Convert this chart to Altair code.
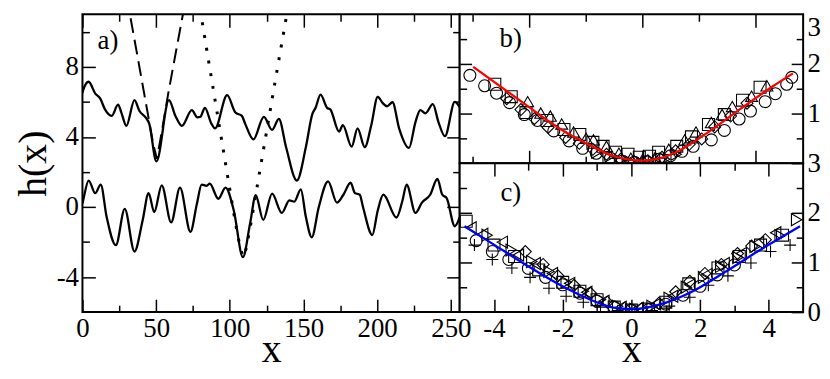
import altair as alt
import pandas as pd

FONT = "Liberation Serif"

# ---------------- panel a) : interfaces h(x) ----------------
upper_x = [0, 0.4, 4.2, 8.7, 12, 15.3, 19.8, 24.2, 26.4, 29.8, 35.3, 38.7, 43, 45.3, 50.2, 58.7, 63.1, 67.5,
           74.2, 78, 80, 83.1, 87.5, 90, 98.2, 103.8, 108.2, 110.4, 116, 123.1, 128.7, 133.3, 138.2, 145.5,
           151.6, 156, 158.2, 161.6, 166, 168.2, 174.2, 176.7, 182.7, 186.7, 191.6, 196, 200.4, 203.8, 206.7,
           210.4, 214.9, 221.6, 226, 229.3, 232.7, 237.8, 241.6, 246, 252.7, 256]
upper_y = [6.5, 6.65, 7.15, 6.47, 6.2, 5.57, 5.2, 5.84, 5.39, 4.63, 6.1, 5.48, 5.1, 4.76, 2.6, 6.1, 5.2, 4.63,
           5.53, 5.12, 5.15, 5.66, 4.76, 4.49, 6.38, 5.39, 5.2, 4.76, 3.86, 5.15, 4.4, 5.03, 3.41, 1.51,
           3.41, 5.3, 5.66, 6.41, 5.66, 5.57, 4.3, 4.67, 3.44, 4.49, 3.41, 4.67, 6.29, 5.93, 5.75,
           5.98, 4.49, 3.37, 4.85, 5.53, 5.35, 5.87, 4.85, 4.04, 6.0, 5.7]

lower_x = [0, 0.4, 4.2, 8.7, 12.4, 16.4, 22.7, 28.7, 35.3, 40.9, 44.9, 48.7, 53.8, 60.2, 66.2, 73.3, 77.6,
           80.9, 84.2, 86.4, 92.2, 97.1, 102.7, 108.9, 113.8, 117.6, 122.7, 128.7, 135.3, 140.4, 143.8,
           148.2, 151.6, 155.6, 160.4, 166.7, 172.7, 177.1, 182, 184.9, 188.2, 190.4, 196.7, 200.4, 204.2,
           213.1, 217.1, 220, 226, 230.4, 236, 240.9, 244.2, 247.1, 252.7, 256]
lower_y = [0.2, 0.34, 1.51, 0.79, 1.28, -0.56, -2.18, -0.11, -2.54, -0.74, 0.79, -0.29, 1.24, -0.88, 1.1, -1.42, 0.16,
           1.28, 1.21, 1.33, 0.47, 1.1, -0.2, -2.86, -0.92, 0.67, -0.74, 0.76, -0.34, 0.38, 0.31,
           1.01, -0.56, -1.73, 0.0, 1.46, 0.25, 0.7, 1.39, 0.79, 0.7, 0.0, -1.6, -0.2, 0.7,
           -0.6, 0.34, 1.28, -0.34, 0.25, 0.7, 1.6, 0.7, 0.52, -1.1, -0.6]

dash_x = [30.0, 32.2, 38.0, 44.4, 48.0, 50.5, 53.0, 58.2, 63.0, 68.2, 70.5]
dash_y = [12.0, 11.0, 8.3, 5.3, 3.6, 2.75, 3.9, 6.47, 8.66, 11.0, 12.0]

dot_x = [78.5, 80.4, 85, 90, 95, 100.4, 104, 107, 109, 111, 114, 117.6, 122, 128, 134, 138.7, 140.5]
dot_y = [12.0, 11.0, 8.65, 6.1, 3.55, 0.8, -1.0, -2.3, -2.86, -2.4, -1.1, 0.7, 2.86, 5.8, 8.75, 11.0, 11.9]

a_label = ["a)"]
a_label_x = [17.3]
a_label_y = [9.46]

a_x_major = [0, 50, 100, 150, 200, 250]
a_x_minor = [25, 75, 125, 175, 225]
a_y_major = [-4, 0, 4, 8]
a_y_minor = [-2, 2, 6, 10]

# ---------------- panel b) ----------------
b_fit_x = [-2.98, -2.08, -1.50, -0.92, -0.52, -0.23, 0.0, 0.25, 0.58, 1.16, 1.74, 2.32, 2.66]
b_fit_y = [1.94, 1.20, 0.73, 0.36, 0.15, 0.07, 0.05, 0.08, 0.21, 0.62, 1.10, 1.56, 1.81]

b_circle_x = [-3.04, -2.78, -2.57, -2.34, -2.08, -1.85, -1.56, -1.29, -1.05, -0.81, -0.56, -0.35, -0.14, 0.07,
              0.29, 0.50, 0.70, 0.90, 1.22, 1.45, 1.71, 1.91, 2.17, 2.35, 2.55, 2.64]
b_circle_y = [1.77, 1.56, 1.41, 1.22, 0.98, 0.86, 0.65, 0.45, 0.30, 0.20, 0.10, 0.04, 0.02, 0.03,
              0.08, 0.15, 0.24, 0.34, 0.47, 0.66, 0.89, 1.05, 1.24, 1.40, 1.59, 1.73]
b_square_x = [-2.60, -2.31, -2.05, -1.68, -1.38, -1.10, -0.87, -0.69, -0.47, -0.25, -0.05, 0.13, 0.29, 0.61,
              0.87, 1.17, 1.45, 1.77, 2.08]
b_square_y = [1.59, 1.34, 1.02, 0.86, 0.68, 0.58, 0.42, 0.34, 0.22, 0.18, 0.12, 0.14, 0.22, 0.34,
              0.53, 0.78, 0.98, 1.27, 1.53]
b_triup_x = [-2.02, -1.79, -1.62, -1.42, -1.21, -0.99, -0.86, -0.63, -0.41, -0.20, 0.01, 0.23, 0.47, 0.75,
             0.95, 1.22, 1.41, 1.59, 1.93, 2.20]
b_triup_y = [1.24, 1.01, 0.95, 0.79, 0.63, 0.50, 0.47, 0.34, 0.20, 0.10, 0.08, 0.12, 0.28, 0.47,
             0.63, 0.82, 0.98, 1.14, 1.35, 1.56]
b_diamond_x = [-2.39, -2.14, -1.90, -1.66, -1.35, -1.11, -0.87, -0.63, -0.38, -0.14, 0.10, 0.35, 0.59, 0.83,
               1.05, 1.28, 1.56, 1.85]
b_diamond_y = [1.30, 1.08, 0.90, 0.72, 0.52, 0.40, 0.28, 0.18, 0.08, 0.03, 0.05, 0.12, 0.25, 0.38,
               0.49, 0.73, 0.95, 1.21]
b_triright_x = [-0.80, -0.60, -0.40, -0.20, 0.00, 0.20, 0.40, 0.60]
b_triright_y = [0.22, 0.12, 0.06, 0.02, 0.00, 0.03, 0.08, 0.18]

b_label = ["b)"]
b_label_x = [-2.32]
b_label_y = [2.5]

b_x_major = [-2, 0, 2]
b_x_minor = [-3, -1, 1]
b_y_labels = [1, 2]
b_y_top_label = [3]

# ---------------- panel c) ----------------
c_fit_x = [-4.86, -4.05, -3.09, -2.14, -1.19, -0.52, 0.05, 0.81, 1.76, 2.71, 3.67, 4.91]
c_fit_y = [1.73, 1.38, 0.96, 0.57, 0.25, 0.09, 0.06, 0.15, 0.41, 0.80, 1.22, 1.73]

c_trileft_x = [-4.67, -4.33, -3.76, -3.29, -2.8, -2.3, -1.8, -1.3, -0.8, -0.3, 0.2, 0.7, 1.2, 1.7, 2.2, 2.7,
               3.2, 3.7, 4.2]
c_trileft_y = [1.70, 1.57, 1.41, 1.15, 0.98, 0.78, 0.58, 0.40, 0.22, 0.10, 0.08, 0.16, 0.32, 0.55, 0.76, 0.98,
               1.18, 1.40, 1.60]
c_triright_x = [-4.2, -3.5, -2.9, -2.4, -1.9, -1.4, -0.9, -0.4, 0.1, 0.6, 1.1, 1.6, 2.1, 2.6, 3.1, 3.6, 4.33, 4.81]
c_triright_y = [1.55, 1.25, 1.02, 0.82, 0.60, 0.42, 0.25, 0.12, 0.06, 0.12, 0.28, 0.50, 0.70, 0.92, 1.10, 1.32,
                1.54, 1.86]
c_diamond_x = [-3.09, -2.57, -2.14, -1.67, -1.19, -0.7, -0.2, 0.3, 0.8, 1.29, 1.7, 2.14, 2.62, 3.09, 3.5, 3.9]
c_diamond_y = [1.22, 0.96, 0.73, 0.54, 0.38, 0.20, 0.08, 0.07, 0.18, 0.41, 0.62, 0.78, 0.96, 1.18, 1.33, 1.46]
c_square_x = [-4.81, -4.0, -3.4, -2.7, -2.0, -1.5, -1.0, -0.5, 0.0, 0.5, 1.0, 1.67, 2.52, 3.14, 3.76, 4.4]
c_square_y = [1.83, 1.35, 1.12, 0.85, 0.60, 0.42, 0.25, 0.10, 0.04, 0.06, 0.20, 0.57, 0.89, 1.12, 1.35, 1.55]
c_circle_x = [-4.52, -4.05, -3.57, -3.0, -2.5, -2.0, -1.5, -1.0, -0.5, 0.0, 0.5, 1.0, 1.5, 2.0, 2.5, 3.0]
c_circle_y = [1.44, 1.22, 1.06, 0.88, 0.70, 0.55, 0.38, 0.22, 0.10, 0.04, 0.05, 0.16, 0.34, 0.52, 0.75, 0.95]
c_plus_x = [-4.57, -4.05, -3.48, -2.95, -2.4, -1.9, -1.4, -0.9, -0.4, 0.1, 0.6, 1.1, 1.7, 2.24, 2.81, 3.48,
            4.05, 4.62]
c_plus_y = [1.35, 1.06, 0.89, 0.70, 0.48, 0.32, 0.20, 0.10, 0.03, 0.00, 0.03, 0.12, 0.30, 0.54, 0.73, 0.99,
            1.22, 1.35]

c_label = ["c)"]
c_label_x = [-3.51]
c_label_y = [2.39]

c_x_major = [-4, -2, 0, 2, 4]
c_x_minor = [-3, -1, 1, 3]
c_y_labels = [0, 1, 2, 3]
bc_y_major_ticks = [1, 2]
bc_y_minor = [0.5, 1.5, 2.5]

# ---------------- helpers ----------------
MAJ, MIN = 13, 7
LABELS = dict(labels=True, labelFont=FONT, labelFontSize=27, labelPadding=4, labelColor="black",
              labelExpr="'' + datum.value", labelFlush=False, labelOverlap=False)


def tick_axis(orient, values, size, **kw):
    opts = dict(orient=orient, values=values, tickSize=size, offset=-size, labels=False, title=None,
                domain=False, grid=False, ticks=True, tickColor="black", tickWidth=1.5)
    opts.update(kw)
    return alt.Axis(**opts)


def title_opts(text, size, pad):
    return dict(title=text, titleFont=FONT, titleFontSize=size, titleFontWeight="normal",
                titleColor="black", titlePadding=pad)


def xy_frame(xs, ys):
    return pd.DataFrame({"x": xs, "y": ys})


# ---------------- panel a ----------------
W_A, H = 380, 300
xs_a = alt.Scale(domain=[0, 256], nice=False, zero=False)
ys_a = alt.Scale(domain=[-6, 11], nice=False, zero=False)

solid_df = pd.DataFrame({
    "x": upper_x + lower_x,
    "y": upper_y + lower_y,
    "s": ["upper"] * len(upper_x) + ["lower"] * len(lower_x),
})

a_solid = alt.Chart(solid_df).mark_line(color="black", strokeWidth=2.3, interpolate="monotone", clip=True).encode(
    x=alt.X("x:Q", scale=xs_a,
            axis=tick_axis("bottom", a_x_major, MAJ, **LABELS, **title_opts("x", 40, -12))),
    y=alt.Y("y:Q", scale=ys_a,
            axis=tick_axis("left", a_y_major, MAJ, **LABELS, **title_opts("h(x)", 40, 3))),
    detail="s:N",
)
a_dash = alt.Chart(xy_frame(dash_x, dash_y)).mark_line(
    color="black", strokeWidth=2, strokeDash=[15, 7], clip=True).encode(
    x=alt.X("x:Q", scale=xs_a, axis=tick_axis("bottom", a_x_minor, MIN)),
    y=alt.Y("y:Q", scale=ys_a, axis=tick_axis("left", a_y_minor, MIN)),
)
a_dot = alt.Chart(xy_frame(dot_x, dot_y)).mark_line(
    color="black", strokeWidth=3, strokeDash=[3, 10], clip=True).encode(
    x=alt.X("x:Q", scale=xs_a, axis=tick_axis("top", a_x_major, MAJ)),
    y=alt.Y("y:Q", scale=ys_a, axis=tick_axis("right", a_y_major, MAJ)),
)
a_txt = alt.Chart(pd.DataFrame({"x": a_label_x, "y": a_label_y, "t": a_label})).mark_text(
    font=FONT, fontSize=27, color="black").encode(
    x=alt.X("x:Q", scale=xs_a, axis=tick_axis("top", a_x_minor, MIN)),
    y=alt.Y("y:Q", scale=ys_a, axis=tick_axis("right", a_y_minor, MIN)),
    text="t:N",
)
panel_a = alt.layer(a_solid, a_dash, a_dot, a_txt).resolve_axis(x="independent", y="independent").properties(
    width=W_A, height=H)

# ---------------- panel b / c ----------------
W_R = 346
H_R = H // 2
PLUS = "M-1,0L1,0M0,-1L0,1"
SHAPE_NAMES = ["circle", "square", "triangle-up", "diamond", "triangle-right", "triangle-left", "plus"]
SHAPE_PATHS = ["circle", "square", "triangle-up", "diamond", "triangle-right", "triangle-left", PLUS]


def points_frame(groups):
    xs, ys, ss = [], [], []
    for shape, gx, gy in groups:
        xs += gx
        ys += gy
        ss += [shape] * len(gx)
    return pd.DataFrame({"x": xs, "y": ys, "shape": ss})


def small_panel(points_df, fit_x, fit_y, color, label, lx, ly, xdom, xmaj, xmin, ylabel_vals, top_label,
                bottom_labels):
    xs = alt.Scale(domain=xdom, nice=False, zero=False)
    ys = alt.Scale(domain=[0, 3], nice=False, zero=False)
    if bottom_labels:
        xaxis_major = tick_axis("bottom", xmaj, MAJ, **LABELS, **title_opts("x", 40, -12))
    else:
        xaxis_major = tick_axis("bottom", xmaj, MAJ)
    pts = alt.Chart(points_df).mark_point(filled=False, color="black", strokeWidth=1.1, size=145,
                                          opacity=1, clip=True).encode(
        x=alt.X("x:Q", scale=xs, axis=xaxis_major),
        y=alt.Y("y:Q", scale=ys, axis=tick_axis("right", ylabel_vals, 12, **LABELS)),
        shape=alt.Shape("shape:N", scale=alt.Scale(domain=SHAPE_NAMES, range=SHAPE_PATHS), legend=None),
    )
    fit = alt.Chart(xy_frame(fit_x, fit_y)).mark_line(color=color, strokeWidth=2.3, interpolate="monotone",
                                                      clip=True).encode(
        x=alt.X("x:Q", scale=xs, axis=tick_axis("bottom", xmin, MIN)),
        y=alt.Y("y:Q", scale=ys, axis=tick_axis("right", bc_y_minor, MIN)),
    )
    txt = alt.Chart(pd.DataFrame({"x": lx, "y": ly, "t": label})).mark_text(
        font=FONT, fontSize=27, color="black").encode(
        x=alt.X("x:Q", scale=xs, axis=tick_axis("top", xmaj, MAJ)),
        y=alt.Y("y:Q", scale=ys, axis=tick_axis("left", bc_y_major_ticks, 12)),
        text="t:N",
    )
    ghost = alt.Chart(xy_frame(fit_x, fit_y)).mark_line(opacity=0).encode(
        x=alt.X("x:Q", scale=xs, axis=tick_axis("top", xmin, MIN)),
        y=alt.Y("y:Q", scale=ys, axis=tick_axis("left", bc_y_minor, MIN)),
    )
    layers = [pts, fit, txt, ghost]
    if top_label:
        top = dict(LABELS)
        top["labelBaseline"] = "top"
        ghost2 = alt.Chart(xy_frame(fit_x, fit_y)).mark_line(opacity=0).encode(
            x=alt.X("x:Q", scale=xs, axis=None),
            y=alt.Y("y:Q", scale=ys, axis=tick_axis("right", top_label, 0, ticks=False, **top)),
        )
        layers.append(ghost2)
    return alt.layer(*layers).resolve_axis(x="independent", y="independent").properties(
        width=W_R, height=H_R,
        view=alt.ViewBackground(fill="white", stroke="black", strokeWidth=2))


b_points = points_frame([
    ("circle", b_circle_x, b_circle_y),
    ("square", b_square_x, b_square_y),
    ("triangle-up", b_triup_x, b_triup_y),
    ("diamond", b_diamond_x, b_diamond_y),
    ("triangle-right", b_triright_x, b_triright_y),
])
c_points = points_frame([
    ("triangle-left", c_trileft_x, c_trileft_y),
    ("triangle-right", c_triright_x, c_triright_y),
    ("diamond", c_diamond_x, c_diamond_y),
    ("square", c_square_x, c_square_y),
    ("circle", c_circle_x, c_circle_y),
    ("plus", c_plus_x, c_plus_y),
])

panel_b = small_panel(b_points, b_fit_x, b_fit_y, "#ff0000", b_label, b_label_x, b_label_y,
                      [-3.22, 2.84], b_x_major, b_x_minor, b_y_labels, b_y_top_label, False)
panel_c = small_panel(c_points, c_fit_x, c_fit_y, "#0000ff", c_label, c_label_x, c_label_y,
                      [-5, 5], c_x_major, c_x_minor, c_y_labels, None, True)

right = alt.vconcat(panel_b, panel_c, spacing=0, bounds="flush")

chart = alt.hconcat(panel_a, right, spacing=0, bounds="flush").properties(
    padding={"left": 4, "top": 3, "right": 0, "bottom": 0}
).configure_view(stroke="black", strokeWidth=2).configure_axis(grid=False)

chart.save("out.html", embed_options={"renderer": "svg", "actions": False})
